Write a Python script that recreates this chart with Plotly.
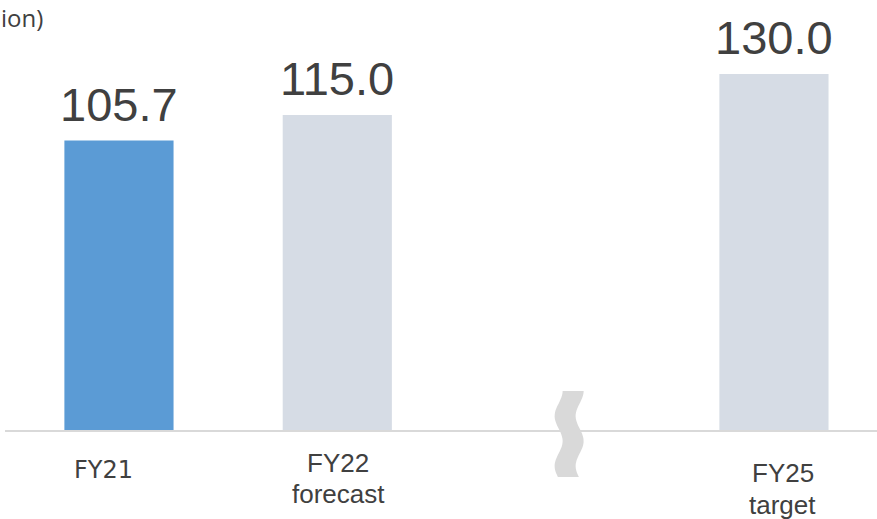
import math
import plotly.graph_objects as go

# ---- data ----
categories = ["FY21", "FY22 forecast", "FY25 target"]
cat_lines = [["FY21"], ["FY22", "forecast"], ["FY25", "target"]]
positions = [0, 1, 3]          # slot 2 is the axis break
values = [105.7, 115.0, 130.0]
value_labels = ["105.7", "115.0", "130.0"]
bar_colors = ["#5B9BD5", "#D6DCE5", "#D6DCE5"]
unit_label = "ion)"            # visible part of the (cropped) unit label
break_position = 2

W, H = 877, 519
ML, MR, MT, MB = 5, 0, 0, 89
XR = [-0.522, 3.472]
YR = [0, 157]

fig = go.Figure()
fig.add_trace(go.Bar(
    x=positions, y=values, width=0.5,
    marker=dict(color=bar_colors, line=dict(width=0)),
    hoverinfo="skip",
))

# value labels
for p, v, t in zip(positions, values, value_labels):
    fig.add_annotation(x=p, y=v, xref="x", yref="y", text=t, showarrow=False,
                       yanchor="bottom", yshift=8,
                       font=dict(family="Liberation Sans, Arial", size=47, color="#404040"))

# category labels (multi-line, positioned like the original)
label_specs = [
    # (font family, size, x shift, list of y-pixel centres)
    ("DejaVu Sans", 24, -15, [470]),
    ("Liberation Sans, Arial", 26, 1, [463, 494]),
    ("Liberation Sans, Arial", 26, 9, [473, 505]),
]
plot_h = H - MT - MB
plot_w = W - ML - MR
for p, lines, (fam, sz, xs, ys) in zip(positions, cat_lines, label_specs):
    for line, ypx in zip(lines, ys):
        fig.add_annotation(x=p, xref="x", y=(H - MB - ypx) / plot_h, yref="paper",
                           text=line, showarrow=False, yanchor="middle", xshift=xs,
                           borderpad=0,
                           font=dict(family=fam, size=sz, color="#404040"))

# unit label at the top-left corner
fig.add_annotation(x=(0 - ML) / plot_w, xref="paper", y=(H - MB - 17) / plot_h,
                   yref="paper", text=unit_label, showarrow=False,
                   xanchor="left", yanchor="middle", borderpad=0,
                   font=dict(family="Open Sans", size=24, color="#404040"))

# axis-break squiggle, placed in the empty slot
cx_px = ML + (break_position - XR[0]) / (XR[1] - XR[0]) * plot_w + 13

def px2paper(xp, yp):
    return ((xp - ML) / plot_w, (H - MB - yp) / plot_h)

top, bot, amp, period, band = 391, 477, 4, 50, 21
left_pts, right_pts = [], []
n = 40
for i in range(n + 1):
    yp = top + (bot - top) * i / n
    xl = cx_px - 10 + amp * math.cos(2 * math.pi * (yp - top) / period)
    left_pts.append((xl, yp))
    right_pts.append((xl + band, yp))
pts = left_pts + right_pts[::-1]
path = "M " + " L ".join("%.4f,%.4f" % px2paper(a, b) for a, b in pts) + " Z"
fig.add_shape(type="path", path=path, xref="paper", yref="paper",
              fillcolor="#D9D9D9", line=dict(width=0), layer="above")

fig.update_layout(
    width=W, height=H,
    margin=dict(l=ML, r=MR, t=MT, b=MB),
    plot_bgcolor="white", paper_bgcolor="white",
    showlegend=False,
    xaxis=dict(range=XR, showline=True, linecolor="#D9D9D9", linewidth=2,
               showgrid=False, zeroline=False, showticklabels=False, ticks=""),
    yaxis=dict(range=YR, visible=False, showgrid=False, zeroline=False),
)

fig.write_html("out.html")
